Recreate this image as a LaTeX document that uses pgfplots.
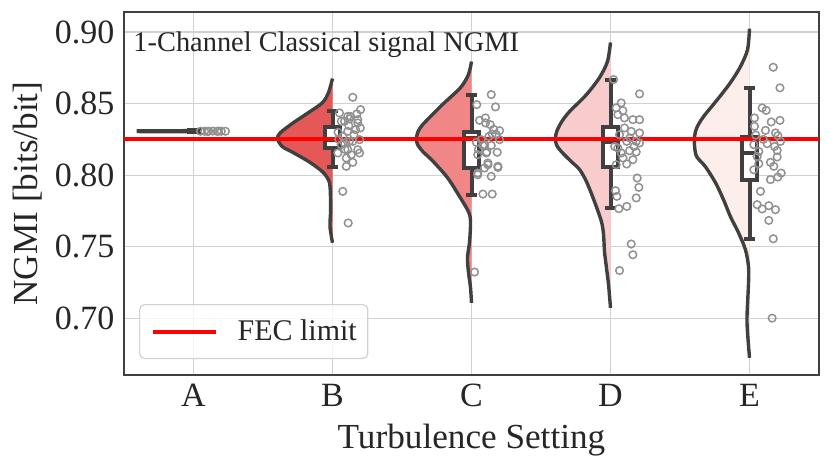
\documentclass[border=0pt]{standalone}
\usepackage{fontspec}
\setmainfont{Liberation Serif}
\usepackage{pgfplots}
\pgfplotsset{compat=1.18}
\usepackage{pgfplotstable}

\definecolor{dk}{RGB}{64,64,64}
\definecolor{ptc}{RGB}{145,145,145}
\definecolor{cB}{RGB}{229,88,88}
\definecolor{cC}{RGB}{240,134,134}
\definecolor{cD}{RGB}{248,204,204}
\definecolor{cE}{RGB}{252,238,235}
\definecolor{txt}{RGB}{38,38,38}

\pgfplotstableread{
x y
0 0.8309
-0.41 0.8307
0 0.8305
}\violinA

\pgfplotstableread{
x y
1 0.8675
0.971 0.8577
0.928 0.8507
0.827 0.8437
0.719 0.8367
0.625 0.8297
0.604 0.8255
0.640 0.8199
0.719 0.8157
0.842 0.8087
0.935 0.8017
0.978 0.7948
0.986 0.7829
0.986 0.7738
0.982 0.7640
1 0.7528
}\violinB

\pgfplotstableread{
x y
2 0.8794
1.978 0.8703
1.921 0.8612
1.791 0.8493
1.669 0.8374
1.630 0.8330
1.610 0.8290
1.604 0.8248
1.614 0.8210
1.650 0.8165
1.726 0.8094
1.827 0.7983
1.906 0.7864
1.978 0.7745
1.993 0.7675
1.986 0.7535
1.971 0.7423
1.978 0.7325
1.993 0.7213
2 0.7108
}\violinC

\pgfplotstableread{
x y
3 0.8927
2.978 0.8794
2.921 0.8682
2.827 0.8563
2.705 0.8444
2.650 0.8375
2.615 0.8310
2.604 0.8260
2.612 0.8210
2.647 0.8164
2.719 0.8094
2.777 0.8040
2.827 0.7955
2.885 0.7815
2.935 0.7675
2.950 0.7584
2.957 0.7465
2.971 0.7353
2.986 0.7234
3 0.7073
}\violinD

\pgfplotstableread{
x y
4 0.9024
3.986 0.8878
3.935 0.8759
3.863 0.8647
3.769 0.8528
3.669 0.8409
3.620 0.8330
3.605 0.8270
3.605 0.8200
3.620 0.8130
3.683 0.8059
3.755 0.7948
3.813 0.7829
3.863 0.7710
3.921 0.7598
3.971 0.7479
3.993 0.7360
3.993 0.7248
3.982 0.7010
3.986 0.6899
4 0.6724
}\violinE

\pgfplotstableread{
x y
0.05 0.8307
0.08 0.8307
0.11 0.8307
0.14 0.8308
0.17 0.8306
0.20 0.8307
0.23 0.8307
0.10 0.8306
0.18 0.8308
}\ptsA

\pgfplotstableread{
x y
1.146 0.8544
1.202 0.8458
1.175 0.8428
1.050 0.8435
1.122 0.8393
1.182 0.8365
1.063 0.8376
1.117 0.8346
1.166 0.8318
1.195 0.8248
1.110 0.8306
1.074 0.8271
1.146 0.8236
1.182 0.8178
1.110 0.8178
1.063 0.8213
1.099 0.8120
1.146 0.8090
1.099 0.8062
1.038 0.8155
1.074 0.7887
1.113 0.7666
1.086 0.8376
1.154 0.8283
1.086 0.8225
1.135 0.8143
1.195 0.8155
1.122 0.8236
1.040 0.8300
1.045 0.8250
1.130 0.8410
1.090 0.8180
1.200 0.8330
1.182 0.8388
1.110 0.8411
}\ptsB

\pgfplotstableread{
x y
2.142 0.8563
2.038 0.8493
2.173 0.8477
2.058 0.8383
2.101 0.8365
2.135 0.8353
2.202 0.8311
2.149 0.8288
2.125 0.8271
2.202 0.8248
2.070 0.8248
2.082 0.8208
2.142 0.8208
2.110 0.8162
2.118 0.8085
2.190 0.8054
2.094 0.8050
2.045 0.8015
2.142 0.7992
2.082 0.7868
2.149 0.7868
2.022 0.7323
2.178 0.8283
2.094 0.8213
2.106 0.8155
2.045 0.8143
2.190 0.8062
2.118 0.8073
2.045 0.8003
2.035 0.8230
2.050 0.8180
2.160 0.8320
2.100 0.8400
2.185 0.8160
}\ptsC

\pgfplotstableread{
x y
3.022 0.8668
3.209 0.8568
3.077 0.8505
3.041 0.8470
3.089 0.8451
3.053 0.8423
3.161 0.8388
3.209 0.8388
3.101 0.8330
3.149 0.8306
3.209 0.8295
3.065 0.8283
3.117 0.8236
3.185 0.8236
3.209 0.8225
3.053 0.8190
3.137 0.8171
3.185 0.8162
3.077 0.8155
3.161 0.8108
3.117 0.8078
3.041 0.8073
3.192 0.7980
3.204 0.7915
3.185 0.7841
3.046 0.7852
3.036 0.7892
3.117 0.7782
3.060 0.7766
3.149 0.7519
3.161 0.7444
3.065 0.7334
3.100 0.8400
3.140 0.8260
3.030 0.8200
3.170 0.8200
3.090 0.8120
}\ptsD

\pgfplotstableread{
x y
4.171 0.8754
4.219 0.8610
4.091 0.8470
4.120 0.8453
4.036 0.8400
4.156 0.8372
4.219 0.8383
4.036 0.8341
4.115 0.8313
4.187 0.8295
4.204 0.8276
4.223 0.8236
4.127 0.8220
4.031 0.8213
4.180 0.8201
4.067 0.8166
4.199 0.8173
4.055 0.8131
4.199 0.8127
4.151 0.8090
4.067 0.8080
4.175 0.8062
4.031 0.8038
4.228 0.8015
4.204 0.7987
4.151 0.7969
4.079 0.7887
4.055 0.7794
4.091 0.7764
4.139 0.7787
4.187 0.7759
4.139 0.7684
4.171 0.7556
4.163 0.7001
4.100 0.8250
4.045 0.8280
}\ptsE

\pgfplotsset{
  bx/.style={draw=dk, line width=2bp, forget plot},
  pts/.style={only marks, mark=o, mark size=1.9bp, mark options={draw=ptc, line width=0.75bp}, forget plot},
}

\begin{document}
\begin{tikzpicture}
\path[use as bounding box] (-62bp,-47bp) rectangle (353.5bp,187.5bp);
\begin{axis}[
  at={(0,0)}, anchor=south west,
  width=347.5bp, height=181.5bp, scale only axis,
  xmin=-0.5, xmax=4.5, ymin=0.6604, ymax=0.914,
  xtick={0,1,2,3,4}, xticklabels={A,B,C,D,E},
  ytick={0.70,0.75,0.80,0.85,0.90},
  /pgf/number format/assume math mode=true,
  yticklabel style={/pgf/number format/fixed,/pgf/number format/fixed zerofill,/pgf/number format/precision=2, xshift=-1.3bp},
  xticklabel style={yshift=-1bp},
  ticklabel style={font=\fontsize{17bp}{20bp}\selectfont, text=txt},
  major tick length=0pt,
  grid=major, major grid style={draw=black!18, line width=0.6bp},
  axis line style={draw=black!75, line width=0.7bp},
  xlabel={Turbulence Setting}, ylabel={NGMI [bits/bit]},
  every axis x label/.style={at={(axis description cs:0.5,0)}, anchor=base, yshift=-36.5bp, font=\fontsize{17.6bp}{20bp}\selectfont, text=txt},
  every axis y label/.style={at={(axis description cs:-0.138,0.5)}, anchor=center, rotate=90, font=\fontsize{17.6bp}{20bp}\selectfont, text=txt},
  legend style={at={(0.0216,0.044)}, anchor=south west, draw=black!18, line width=0.6bp, rounded corners=2.5bp, fill=white, fill opacity=0.8, text opacity=1, font=\fontsize{15bp}{18bp}\selectfont, inner xsep=5.5bp, inner ysep=7.5bp, column sep=10bp, nodes={inner sep=0pt, text=txt}},
  legend image code/.code={\draw[#1] (0bp,0bp) -- (31.5bp,0bp);},
]
% violins
\addplot[draw=dk, line width=2bp, forget plot] table {\violinA};
\addplot[fill=cB, draw=none, smooth, forget plot] table {\violinB} -- cycle;
\addplot[draw=dk, line width=1.7bp, smooth, forget plot] table {\violinB};
\addplot[fill=cC, draw=none, smooth, forget plot] table {\violinC} -- cycle;
\addplot[draw=dk, line width=1.7bp, smooth, forget plot] table {\violinC};
\addplot[fill=cD, draw=none, smooth, forget plot] table {\violinD} -- cycle;
\addplot[draw=dk, line width=1.7bp, smooth, forget plot] table {\violinD};
\addplot[fill=cE, draw=none, smooth, forget plot] table {\violinE} -- cycle;
\addplot[draw=dk, line width=1.7bp, smooth, forget plot] table {\violinE};
% box A (degenerate)
\addplot[draw=dk, line width=2.8bp, forget plot] coordinates {(-0.05,0.8307) (0.055,0.8307)};
% box B
\addplot[bx] coordinates {(1,0.8339) (1,0.8451)};
\addplot[bx] coordinates {(1,0.8192) (1,0.8059)};
\addplot[bx] coordinates {(0.957,0.8451) (1.043,0.8451)};
\addplot[bx] coordinates {(0.957,0.8059) (1.043,0.8059)};
\addplot[bx, fill=white] coordinates {(0.9425,0.8192) (1.0575,0.8192) (1.0575,0.8339) (0.9425,0.8339)} -- cycle;
\addplot[bx] coordinates {(0.9425,0.8248) (1.0575,0.8248)};
% box C
\addplot[bx] coordinates {(2,0.8304) (2,0.8563)};
\addplot[bx] coordinates {(2,0.8050) (2,0.7864)};
\addplot[bx] coordinates {(1.957,0.8563) (2.043,0.8563)};
\addplot[bx] coordinates {(1.957,0.7864) (2.043,0.7864)};
\addplot[bx, fill=white] coordinates {(1.9425,0.8050) (2.0575,0.8050) (2.0575,0.8304) (1.9425,0.8304)} -- cycle;
\addplot[bx] coordinates {(1.9425,0.8262) (2.0575,0.8262)};
% box D
\addplot[bx] coordinates {(3,0.8339) (3,0.8668)};
\addplot[bx] coordinates {(3,0.8059) (3,0.7773)};
\addplot[bx] coordinates {(2.957,0.8668) (3.043,0.8668)};
\addplot[bx] coordinates {(2.957,0.7773) (3.043,0.7773)};
\addplot[bx, fill=white] coordinates {(2.9425,0.8059) (3.0575,0.8059) (3.0575,0.8339) (2.9425,0.8339)} -- cycle;
\addplot[bx] coordinates {(2.9425,0.8234) (3.0575,0.8234)};
% box E
\addplot[bx] coordinates {(4,0.8269) (4,0.8612)};
\addplot[bx] coordinates {(4,0.7969) (4,0.7556)};
\addplot[bx] coordinates {(3.957,0.8612) (4.043,0.8612)};
\addplot[bx] coordinates {(3.957,0.7556) (4.043,0.7556)};
\addplot[bx, fill=white] coordinates {(3.9425,0.7969) (4.0575,0.7969) (4.0575,0.8269) (3.9425,0.8269)} -- cycle;
\addplot[bx] coordinates {(3.9425,0.8157) (4.0575,0.8157)};
% points
\addplot[pts] table {\ptsA};
\addplot[pts] table {\ptsB};
\addplot[pts] table {\ptsC};
\addplot[pts] table {\ptsD};
\addplot[pts] table {\ptsE};
% FEC limit
\addplot[draw=red, line width=2bp] coordinates {(-0.5,0.825) (4.5,0.825)};
\addlegendentry{FEC limit}
\node[anchor=base west, inner sep=0pt, font=\fontsize{14.2bp}{17bp}\selectfont, text=txt] at (rel axis cs:0.013,0.890) {1-Channel Classical signal NGMI};
\end{axis}
\end{tikzpicture}
\end{document}
